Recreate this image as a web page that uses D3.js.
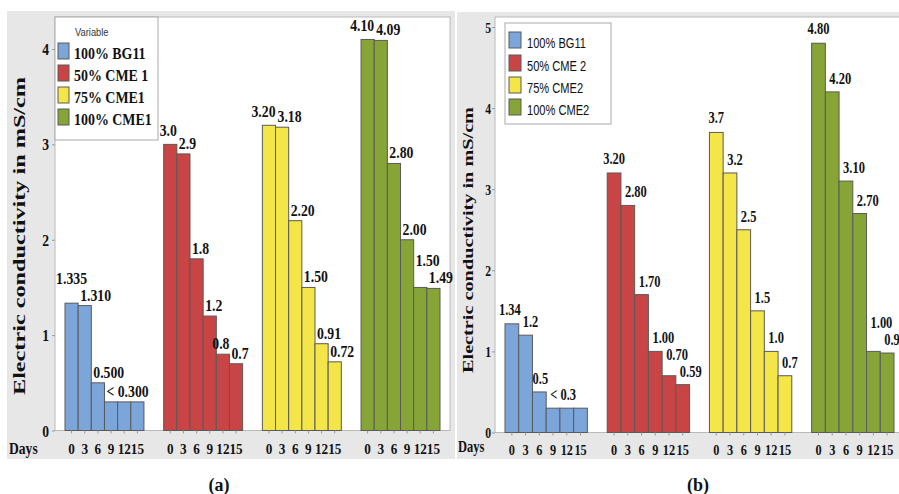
<!DOCTYPE html>
<html>
<head>
<meta charset="utf-8">
<script src="https://cdn.jsdelivr.net/npm/d3@7"></script>
<style>
  html, body { margin: 0; padding: 0; background: #fff; }
  svg { display: block; }
</style>
</head>
<body>
<svg id="chart" width="899" height="494"></svg>
<script>
// ---------------- data ----------------
const days = ["0", "3", "6", "9", "12", "15"];
const yTicksA = [0, 1, 2, 3, 4];
const yTicksB = [0, 1, 2, 3, 4, 5];

const seriesA = ["100% BG11", "50% CME 1", "75% CME1", "100% CME1"];
const seriesB = ["100% BG11", "50% CME 2", "75% CME2", "100% CME2"];

// panel (a)
const bg11A = [1.335, 1.310, 0.500, 0.300, 0.300, 0.300];
const cme1_50 = [3.0, 2.9, 1.8, 1.2, 0.8, 0.7];
const cme1_75 = [3.20, 3.18, 2.20, 1.50, 0.91, 0.72];
const cme1_100 = [4.10, 4.09, 2.80, 2.00, 1.50, 1.49];
const bg11A_lab = ["1.335", "1.310", "0.500", "< 0.300", "", ""];
const cme1_50_lab = ["3.0", "2.9", "1.8", "1.2", "0.8", "0.7"];
const cme1_75_lab = ["3.20", "3.18", "2.20", "1.50", "0.91", "0.72"];
const cme1_100_lab = ["4.10", "4.09", "2.80", "2.00", "1.50", "1.49"];

// panel (b)
const bg11B = [1.34, 1.2, 0.5, 0.3, 0.3, 0.3];
const cme2_50 = [3.20, 2.80, 1.70, 1.00, 0.70, 0.59];
const cme2_75 = [3.7, 3.2, 2.5, 1.5, 1.0, 0.7];
const cme2_100 = [4.80, 4.20, 3.10, 2.70, 1.00, 0.98];
const bg11B_lab = ["1.34", "1.2", "0.5", "< 0.3", "", ""];
const cme2_50_lab = ["3.20", "2.80", "1.70", "1.00", "0.70", "0.59"];
const cme2_75_lab = ["3.7", "3.2", "2.5", "1.5", "1.0", "0.7"];
const cme2_100_lab = ["4.80", "4.20", "3.10", "2.70", "1.00", "0.98"];

const palette = ["#7ca5d9", "#c94444", "#f4e548", "#87a537"];

// ---------------- drawing ----------------
const svg = d3.select("#chart");
const SERIF = "'Liberation Serif', 'DejaVu Serif', serif";
const SANS = "'Liberation Sans', Arial, sans-serif";

function txt(g, x, y, str, o) {
  return g.append("text")
    .attr("transform", `translate(${x},${y}) scale(${o.sx || 1},1)`)
    .attr("text-anchor", o.anchor || "start")
    .attr("font-family", o.family || SERIF)
    .attr("font-weight", o.weight || "bold")
    .attr("font-size", o.size)
    .attr("fill", o.fill || "#111")
    .text(str);
}

const panels = [
  {
    series: seriesA,
    values: [bg11A, cme1_50, cme1_75, cme1_100],
    labels: [bg11A_lab, cme1_50_lab, cme1_75_lab, cme1_100_lab],
    yTicks: yTicksA,
    bg: [7, 11, 448, 448],
    plot: [55, 17, 395, 413.5],
    y0: 430.5, yTopVal: 4, yTopPx: 49,
    gx: [65, 440], gpad: 0.2,
    labSx: 0.86, labDx: 2, labDy: -5, firstDy: -8,
    tickSx: 0.85, tickSize: 16, yLabX: -7,
    xtSx: 0.88, xtPad: 10,
    days: [9, 454, 0.85],
    title: [25, 236, 318, 17],
    caption: ["(a)", 219, 491],
    legend: { box: [55, 17, 103, 123], title: "Variable", sw: [58, 11], base: [59, 81, 103, 125],
              tx: 74, fam: SERIF, size: 17, sx: 0.82, weight: "bold" }
  },
  {
    series: seriesB,
    values: [bg11B, cme2_50, cme2_75, cme2_100],
    labels: [bg11B_lab, cme2_50_lab, cme2_75_lab, cme2_100_lab],
    yTicks: yTicksB,
    bg: [457, 12, 442, 447],
    plot: [495, 17, 410, 415.5],
    y0: 432.5, yTopVal: 5, yTopPx: 27,
    gx: [505, 894], gpad: 0.194,
    labSx: 0.78, labDx: 4, labDy: -8, firstDy: -9,
    tickSx: 0.78, tickSize: 15, yLabX: -5,
    xtSx: 0.82, xtPad: 9,
    days: [458, 452, 0.78],
    title: [473, 240, 266, 15],
    caption: ["(b)", 698, 491],
    legend: { box: [505, 23, 106, 101], title: null, sw: [509, 12], base: [48, 71, 93, 115],
              tx: 527, fam: SANS, size: 15, sx: 0.74, weight: "normal" }
  }
];

panels.forEach(p => {
  const g = svg.append("g");

  // backgrounds
  g.append("rect").attr("x", p.bg[0]).attr("y", p.bg[1]).attr("width", p.bg[2]).attr("height", p.bg[3])
    .attr("fill", "#e7e7e7");
  g.append("rect").attr("x", p.plot[0]).attr("y", p.plot[1]).attr("width", p.plot[2]).attr("height", p.plot[3])
    .attr("fill", "#fff").attr("stroke", "#b9b9b9").attr("stroke-width", 1);

  // scales
  const y = d3.scaleLinear().domain([0, p.yTopVal]).range([p.y0, p.yTopPx]);
  const gScale = d3.scaleBand().domain(d3.range(p.series.length)).range(p.gx).paddingInner(p.gpad).paddingOuter(0);
  const inner = d3.scaleBand().domain(days).range([0, gScale.bandwidth()]).padding(0);

  // y axis
  const yAx = g.append("g").attr("transform", `translate(${p.plot[0]},0)`)
    .call(d3.axisLeft(y).tickValues(p.yTicks).tickFormat(d3.format("d")).tickSize(3).tickPadding(4));
  yAx.select(".domain").remove();
  yAx.selectAll(".tick line").attr("stroke", "#999");
  yAx.selectAll(".tick text")
    .attr("x", p.yLabX).attr("dy", "0.35em")
    .attr("font-family", SERIF).attr("font-weight", "bold").attr("font-size", p.tickSize)
    .attr("fill", "#111").attr("transform", `scale(${p.tickSx},1)`);

  // bars, x axes, labels
  p.values.forEach((vals, si) => {
    const gx = gScale(si);
    const grp = g.append("g").attr("transform", `translate(${gx},0)`);
    grp.selectAll("rect").data(vals).join("rect")
      .attr("x", (d, i) => inner(days[i]))
      .attr("y", d => y(d))
      .attr("width", inner.bandwidth())
      .attr("height", d => y(0) - y(d))
      .attr("fill", palette[si])
      .attr("stroke", "#5a5a5a").attr("stroke-width", 1);

    const xa = grp.append("g").attr("transform", `translate(0,${p.y0})`)
      .call(d3.axisBottom(inner).tickSize(3).tickPadding(p.xtPad));
    xa.select(".domain").remove();
    xa.selectAll(".tick line").attr("stroke", "#999");
    xa.selectAll(".tick text")
      .attr("font-family", SERIF).attr("font-weight", "bold").attr("font-size", 15)
      .attr("fill", "#111").attr("transform", `scale(${p.xtSx},1)`);

    // value labels with simple collision avoidance
    const labs = [];
    p.labels[si].forEach((lab, i) => {
      if (!lab) return;
      const bx = gx + inner(days[i]);
      const top = y(vals[i]);
      const first = i === 0;
      const o = {
        x: first ? bx + inner.bandwidth() / 2 : bx + p.labDx,
        y: top + (first ? p.firstDy : p.labDy),
        anchor: first ? "middle" : "start"
      };
      o.node = txt(g, o.x, o.y, lab, { size: 16, anchor: o.anchor, sx: p.labSx });
      o.w = o.node.node().getComputedTextLength() * p.labSx;
      labs.push(o);
    });
    const box = o => {
      const x0 = o.anchor === "middle" ? o.x - o.w / 2 : o.x;
      return { x0, x1: x0 + o.w, y0: o.y - 13, y1: o.y + 3 };
    };
    for (let k = labs.length - 2; k >= 0; k--) {
      const a = labs[k], b = labs[k + 1];
      const A = box(a), B = box(b);
      const hov = A.x1 - B.x0 + 1;
      const vov = A.y1 - B.y0 + 1;
      if (hov > 0 && vov > 0 && A.x0 < B.x1) {
        if (hov <= 6) a.x -= hov + 1;
        else a.y -= vov;
        a.node.attr("transform", `translate(${a.x},${a.y}) scale(${p.labSx},1)`);
      }
    }
  });

  // "Days"
  txt(g, p.days[0], p.days[1], "Days", { size: 16, sx: p.days[2] });

  // axis title
  g.append("text")
    .attr("transform", `translate(${p.title[0]},${p.title[1]}) rotate(-90)`)
    .attr("text-anchor", "middle")
    .attr("font-family", SERIF).attr("font-weight", "bold").attr("font-size", p.title[3])
    .attr("fill", "#111")
    .attr("textLength", p.title[2]).attr("lengthAdjust", "spacingAndGlyphs")
    .text("Electric conductivity in mS/cm");

  // caption
  txt(svg, p.caption[1], p.caption[2], p.caption[0], { size: 18, anchor: "middle" });

  // legend
  const L = p.legend;
  g.append("rect").attr("x", L.box[0]).attr("y", L.box[1]).attr("width", L.box[2]).attr("height", L.box[3])
    .attr("fill", "#fff").attr("stroke", "#a9a9a9").attr("stroke-width", 1);
  if (L.title) {
    txt(g, 75, 36, L.title, { size: 11, family: SANS, weight: "normal", sx: 0.85, fill: "#333" });
  }
  p.series.forEach((s, i) => {
    g.append("rect").attr("x", L.sw[0]).attr("y", L.base[i] - 16).attr("width", L.sw[1]).attr("height", 16)
      .attr("fill", palette[i]).attr("stroke", "#5a5a5a").attr("stroke-width", 1);
    txt(g, L.tx, L.base[i], s, { size: L.size, family: L.fam, weight: L.weight, sx: L.sx });
  });
});
</script>
</body>
</html>
